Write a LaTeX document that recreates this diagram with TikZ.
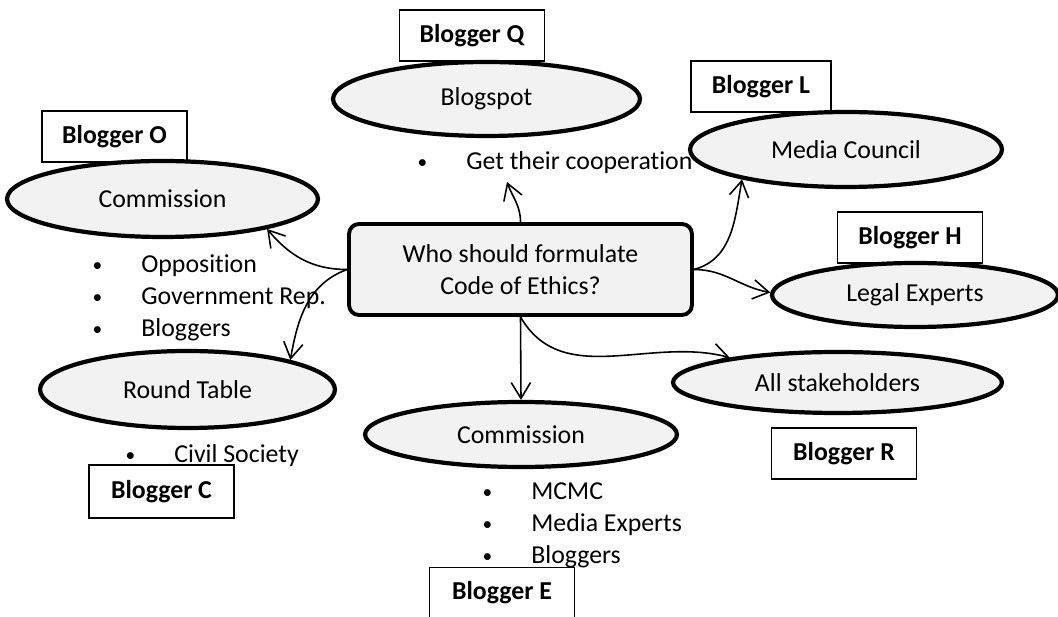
\documentclass[tikz,border=0pt]{standalone}
\usepackage{fontspec}
\setmainfont{Carlito}[Ligatures=NoCommon]
\usetikzlibrary{shapes.geometric,arrows.meta}
\definecolor{ovalgray}{HTML}{F2F2F2}
\newcommand\bul{\makebox[1.01cm][l]{\hspace{1pt}\raisebox{1pt}{\scalebox{0.75}{\textbullet}}}}

\begin{document}
\begin{tikzpicture}[x=0.02cm,y=0.02cm,
    font=\fontsize{14.7}{18}\selectfont,
    oval/.style={ellipse,draw,line width=2.4pt,fill=ovalgray,inner sep=0pt},
    tag/.style={draw,line width=0.8pt,minimum width=2.9cm,minimum height=1.02cm,inner sep=0pt,font=\fontsize{14.7}{18}\selectfont\bfseries},
    item/.style={anchor=base west,inner sep=0pt},
    arr/.style={line width=0.9pt,-{Straight Barb[length=9pt,width=11pt]}}]
      \useasboundingbox (0,0) rectangle (1058,-617);
      % blogger tags
      \node[tag] (bQ) at (472,-35.5) {Blogger Q};
      \node[tag,minimum width=2.8cm] (bL) at (761,-86.5) {Blogger L};
      \node[tag] (bO) at (114.5,-136.5) {Blogger O};
      \node[tag] (bH) at (910,-237.5) {Blogger H};
      \node[tag] (bR) at (844,-453.5) {Blogger R};
      \node[tag,minimum height=1.06cm] (bC) at (161.5,-491.5) {Blogger C};
      \node[tag] (bE) at (502,-593) {Blogger E};
      % centre question
      \node[draw,rounded corners=0.2cm,line width=2.2pt,fill=ovalgray,minimum width=6.86cm,minimum height=1.82cm,align=center] (q) at (520.5,-269.5) {Who should formulate\\Code of Ethics?};
      % ovals
      \node[oval,minimum width=6.14cm,minimum height=1.48cm] (bS) at (486.5,-99) {Blogspot};
      \node[oval,minimum width=6.24cm,minimum height=1.50cm] (mC) at (846,-149.5) {Media Council};
      \node[oval,minimum width=6.22cm,minimum height=1.52cm] (cL) at (162.5,-199) {Commission};
      \node[oval,minimum width=5.72cm,minimum height=1.28cm] (lE) at (915,-295) {Legal Experts};
      \node[oval,minimum width=6.58cm,minimum height=1.22cm] (aS) at (837.5,-382.5) {All stakeholders};
      \node[oval,minimum width=5.90cm,minimum height=1.54cm] (rT) at (187.5,-389.5) {Round Table};
      \node[oval,minimum width=6.24cm,minimum height=1.30cm] (cB) at (521,-434.5) {Commission};
      % bullet lists
      \node[item] (coop) at (415.5,-170) {\bul Get their cooperation};
      \node[item] (o1) at (90.5,-273) {\bul Opposition};
      \node[item] (o2) at (90.5,-305) {\bul Government Rep.};
      \node[item] (o3) at (90.5,-337) {\bul Bloggers};
      \node[item] (c1) at (123.5,-463) {\bul Civil Society};
      \node[item] (e1) at (480.5,-500) {\bul MCMC};
      \node[item] (e2) at (480.5,-532) {\bul Media Experts};
      \node[item] (e3) at (480.5,-564) {\bul Bloggers};
      \coordinate (coopTip) at (507,-182);
      % arrows
      \draw[arr] (q.west) to[out=180,in=-50] (cL.-16);
      \draw[arr] (q.west) to[out=-160,in=80] (rT.16);
      \draw[arr] (q.north) to[out=90,in=-70] (coopTip);
      \draw[arr] (q.east) to[out=15,in=-100] (mC.-164);
      \draw[arr] (q.east) to[out=0,in=170] (lE.179);
      \draw[arr] (q.south) -- (cB.north);
      \draw[arr] (q.south) to[out=-60,in=165] (aS.167);
\end{tikzpicture}
\end{document}
